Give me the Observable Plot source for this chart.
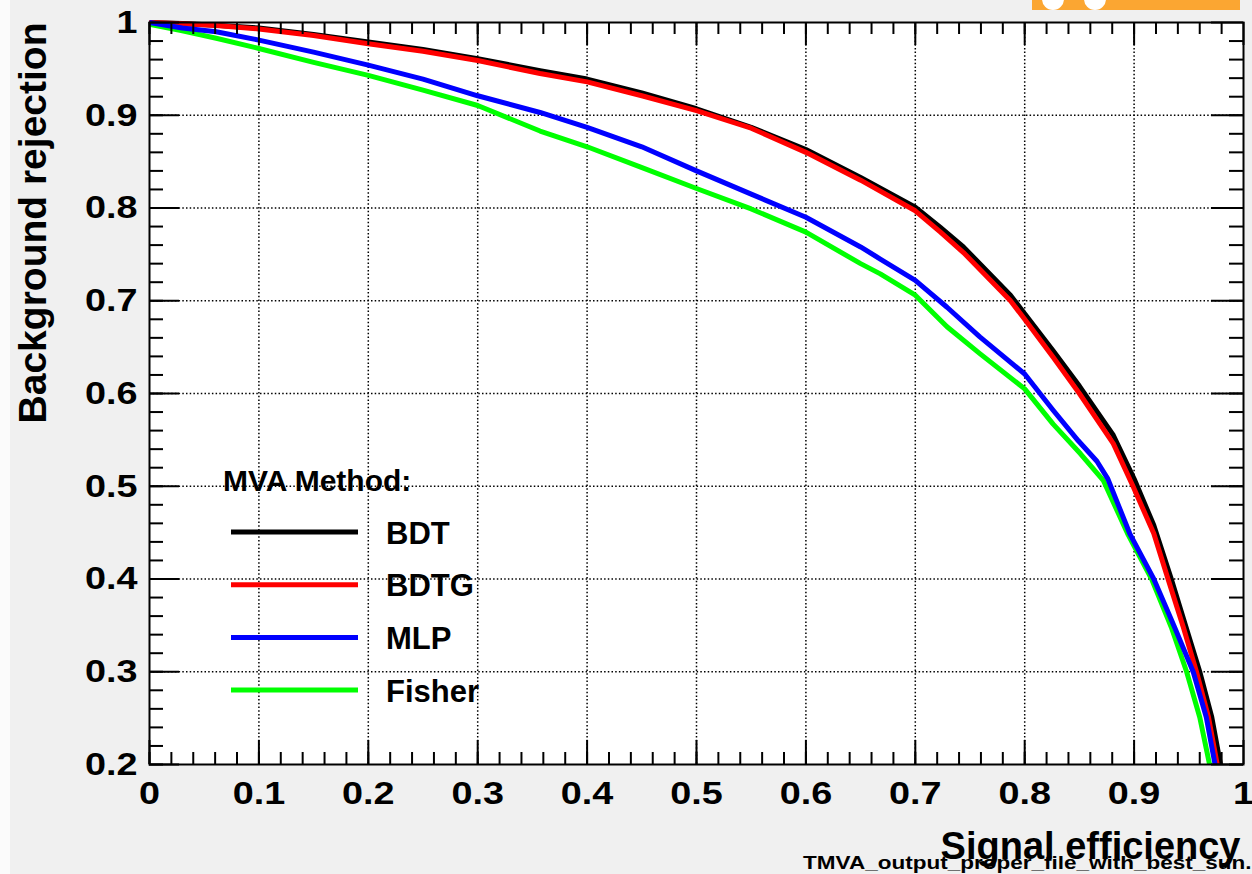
<!DOCTYPE html>
<html>
<head>
<meta charset="utf-8">
<script src="https://cdn.jsdelivr.net/npm/d3@7"></script>
<script src="https://cdn.jsdelivr.net/npm/@observablehq/plot@0.6"></script>
<style>
  html, body { margin: 0; padding: 0; background: #f0f0f0; }
  body { width: 1252px; height: 874px; overflow: hidden; }
  #chart { position: relative; width: 1252px; height: 874px; }
  #chart svg { display: block; }
</style>
</head>
<body>
<div id="chart"></div>
<script>
// ROC curves: background rejection versus signal efficiency for four MVA methods

const methods = ["BDT", "BDTG", "MLP", "Fisher"];
const methodColors = ["#000000", "#ff0000", "#0000ff", "#00ff00"];

const effBDT = [0, 0.03, 0.061, 0.1, 0.15, 0.2, 0.25, 0.3, 0.357, 0.4, 0.45, 0.5, 0.55, 0.6, 0.65, 0.7, 0.723, 0.744, 0.787, 0.8, 0.826, 0.85, 0.881, 0.9, 0.918, 0.934, 0.947, 0.96, 0.971, 0.979];
const rejBDT = [1, 0.999, 0.997, 0.994, 0.987, 0.979, 0.971, 0.961, 0.948, 0.939, 0.924, 0.907, 0.887, 0.863, 0.833, 0.801, 0.779, 0.758, 0.706, 0.686, 0.646, 0.608, 0.555, 0.508, 0.458, 0.400, 0.350, 0.300, 0.251, 0.200];

const effBDTG = [0, 0.03, 0.061, 0.1, 0.15, 0.2, 0.25, 0.3, 0.357, 0.4, 0.45, 0.5, 0.55, 0.6, 0.65, 0.7, 0.723, 0.744, 0.787, 0.8, 0.826, 0.85, 0.881, 0.899, 0.918, 0.931, 0.945, 0.957, 0.968, 0.976];
const rejBDTG = [1, 0.9986, 0.9968, 0.993, 0.986, 0.977, 0.969, 0.959, 0.945, 0.936, 0.921, 0.905, 0.886, 0.860, 0.830, 0.797, 0.774, 0.752, 0.700, 0.680, 0.639, 0.600, 0.546, 0.500, 0.449, 0.400, 0.348, 0.300, 0.251, 0.200];

const effMLP = [0, 0.03, 0.061, 0.1, 0.15, 0.2, 0.25, 0.3, 0.357, 0.4, 0.45, 0.5, 0.55, 0.6, 0.65, 0.668, 0.7, 0.729, 0.759, 0.8, 0.826, 0.849, 0.866, 0.876, 0.896, 0.918, 0.937, 0.954, 0.966, 0.974];
const rejMLP = [1, 0.994, 0.99, 0.981, 0.968, 0.954, 0.939, 0.921, 0.903, 0.887, 0.866, 0.840, 0.815, 0.790, 0.758, 0.745, 0.722, 0.693, 0.661, 0.621, 0.582, 0.549, 0.527, 0.508, 0.449, 0.400, 0.348, 0.300, 0.251, 0.200];

const effFisher = [0, 0.03, 0.061, 0.1, 0.15, 0.2, 0.25, 0.3, 0.357, 0.4, 0.449, 0.5, 0.55, 0.6, 0.65, 0.668, 0.7, 0.729, 0.759, 0.8, 0.826, 0.851, 0.872, 0.894, 0.916, 0.934, 0.948, 0.96, 0.969];
const rejFisher = [0.998, 0.991, 0.983, 0.972, 0.957, 0.943, 0.927, 0.9105, 0.883, 0.866, 0.844, 0.821, 0.799, 0.774, 0.740, 0.729, 0.706, 0.672, 0.643, 0.605, 0.567, 0.535, 0.506, 0.449, 0.400, 0.348, 0.300, 0.251, 0.200];

// axis ticks and labels
const xMajor = [0, 0.1, 0.2, 0.3, 0.4, 0.5, 0.6, 0.7, 0.8, 0.9, 1];
const yMajor = [0.2, 0.3, 0.4, 0.5, 0.6, 0.7, 0.8, 0.9, 1];
const xGrid = [0.1, 0.2, 0.3, 0.4, 0.5, 0.6, 0.7, 0.8, 0.9];
const yGrid = [0.3, 0.4, 0.5, 0.6, 0.7, 0.8, 0.9];
const xMinor = d3.range(0, 50).map(i => i * 0.02);
const yMinor = d3.range(0, 40).map(i => 0.2 + i * 0.02);

const xTitle = "Signal efficiency";
const yTitle = "Background rejection";
const legendTitle = "MVA Method:";
const footnote = "TMVA_output_proper_file_with_best_sun.";

const curve = (eff, rej) => eff.map((e, i) => ({eff: e, rej: rej[i]}));
const series = [
  curve(effBDT, rejBDT),
  curve(effBDTG, rejBDTG),
  curve(effMLP, rejMLP),
  curve(effFisher, rejFisher)
];

const W = 1252, H = 874;
const mL = 149, mR = 9, mT = 22, mB = 110;
const frameW = W - mL - mR;
const frameH = H - mT - mB;
const font = "'Liberation Sans', Arial, Helvetica, sans-serif";
const fmt = d3.format("~g");

const lineMark = (k) => Plot.line(series[k], {
  x: "eff", y: "rej", stroke: methodColors[k], strokeWidth: 5,
  strokeLinejoin: "round", strokeLinecap: "butt"
});

const tickStyle = {stroke: "black", strokeWidth: 2};

const chart = Plot.plot({
  width: W,
  height: H,
  marginLeft: mL,
  marginRight: mR,
  marginTop: mT,
  marginBottom: mB,
  style: {background: "transparent", overflow: "visible"},
  x: {domain: [0, 1], axis: null},
  y: {domain: [0.2, 1], axis: null},
  marks: [
    Plot.frame({fill: "white", stroke: "none"}),
    // dotted grid at major ticks
    Plot.ruleX(xGrid, {x: d => d, stroke: "black", strokeWidth: 1.5, strokeDasharray: "1.5,2.2"}),
    Plot.ruleY(yGrid, {y: d => d, stroke: "black", strokeWidth: 1.5, strokeDasharray: "1.5,2.2"}),
    // curves
    lineMark(0),
    lineMark(1),
    lineMark(3),
    lineMark(2),
    // inward ticks on all four sides
    Plot.ruleX(xMinor, {x: d => d, insetTop: frameH - 12, ...tickStyle}),
    Plot.ruleX(xMajor, {x: d => d, insetTop: frameH - 24, ...tickStyle}),
    Plot.ruleX(xMinor, {x: d => d, insetBottom: frameH - 12, ...tickStyle}),
    Plot.ruleX(xMajor, {x: d => d, insetBottom: frameH - 23, ...tickStyle}),
    Plot.ruleY(yMinor, {y: d => d, insetRight: frameW - 14, ...tickStyle}),
    Plot.ruleY(yMajor, {y: d => d, insetRight: frameW - 30, ...tickStyle}),
    Plot.ruleY(yMinor, {y: d => d, insetLeft: frameW - 14, ...tickStyle}),
    Plot.ruleY(yMajor, {y: d => d, insetLeft: frameW - 32, ...tickStyle}),
    Plot.frame({stroke: "black", strokeWidth: 2}),
    // tick labels
    Plot.text(xMajor, {
      x: d => d, text: d => fmt(d), frameAnchor: "bottom", lineAnchor: "top", dy: 17,
      fontSize: 32, fontWeight: "bold", fontFamily: font, fill: "black"
    }),
    Plot.text(yMajor, {
      y: d => d, text: d => fmt(d), frameAnchor: "left", textAnchor: "end", lineAnchor: "middle", dx: -12,
      fontSize: 32, fontWeight: "bold", fontFamily: font, fill: "black"
    }),
    // file footnote, then axis titles over it
    Plot.text([footnote], {
      text: d => d, frameAnchor: "bottom-right", textAnchor: "end", lineAnchor: "bottom",
      dx: 8, dy: 104, fontSize: 18, fontWeight: "bold", fontFamily: font, fill: "black"
    }),
    Plot.text([xTitle], {
      text: d => d, frameAnchor: "bottom-right", textAnchor: "end", lineAnchor: "bottom",
      dx: -3, dy: 94, fontSize: 38, fontWeight: "bold", fontFamily: font, fill: "black"
    }),
    Plot.text([yTitle], {
      text: d => d, frameAnchor: "top-left", textAnchor: "end", lineAnchor: "bottom", rotate: -90,
      dx: -104, dy: 0, fontSize: 39, fontWeight: "bold", fontFamily: font, fill: "black"
    })
  ]
});

const svg = d3.select(chart);

// pale strip along the left edge of the canvas
svg.insert("rect", ":first-child")
  .attr("x", 0).attr("y", 0).attr("width", 10).attr("height", H).attr("fill", "#fbfbfb");

// legend box inside the frame
const legend = svg.append("g")
  .attr("font-family", font).attr("font-weight", "bold").attr("fill", "black")
  .attr("text-anchor", "start");
legend.append("text")
  .attr("x", 223).attr("y", 491).attr("font-size", 30).attr("text-anchor", "start").text(legendTitle);
methods.forEach((m, i) => {
  const cy = 532 + i * 52.7;
  legend.append("line")
    .attr("x1", 231).attr("x2", 358).attr("y1", cy).attr("y2", cy)
    .attr("stroke", methodColors[i]).attr("stroke-width", 5);
  legend.append("text")
    .attr("x", 386).attr("y", cy + 11.5).attr("font-size", 31).attr("text-anchor", "start").text(m);
});

// logo strip at the top right corner
const logo = svg.append("g");
logo.append("rect").attr("x", 1032).attr("y", 0).attr("width", 208).attr("height", 10).attr("fill", "#fba632");
logo.append("circle").attr("cx", 1053).attr("cy", -1).attr("r", 11).attr("fill", "white");
logo.append("circle").attr("cx", 1095).attr("cy", -1).attr("r", 11).attr("fill", "white");

document.getElementById("chart").appendChild(chart);

// the tick numbers and the footnote are set in a horizontally widened face
const tickLabels = new Set([...xMajor, ...yMajor].map(fmt));
svg.selectAll("text").each(function () {
  const t = this.textContent;
  if (tickLabels.has(t) || t === footnote) {
    const widen = t === footnote ? 1.25 : 1.18;
    const len = this.getComputedTextLength();
    this.setAttribute("textLength", (len * widen).toFixed(1));
    this.setAttribute("lengthAdjust", "spacingAndGlyphs");
  }
});
</script>
</body>
</html>
